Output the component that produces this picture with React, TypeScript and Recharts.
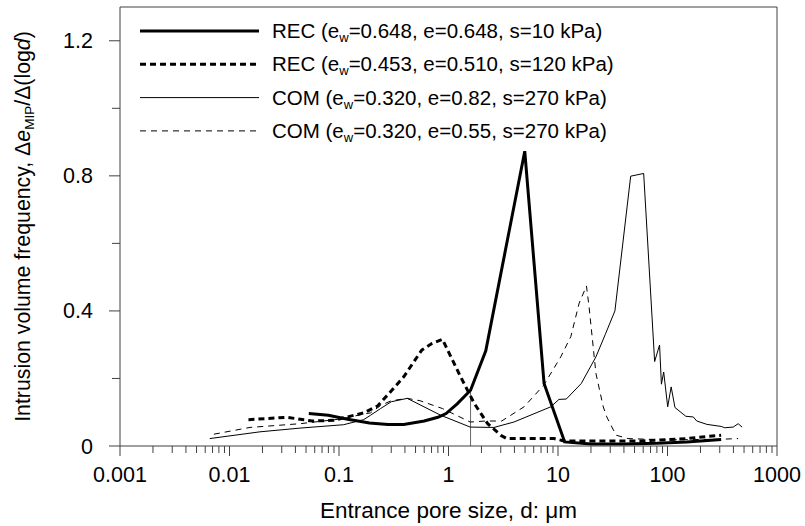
import React from 'react';
import { LineChart, Line, XAxis, YAxis, ReferenceLine, Legend } from 'recharts';

// REC, e_w=0.648 (thick solid)
const rec1D = [0.053, 0.08, 0.12, 0.19, 0.28, 0.39, 0.6, 0.8, 0.95, 1.2, 1.59, 2.19, 4.97, 7.46, 11.5, 20, 40, 80, 150, 309];
const rec1V = [0.096, 0.091, 0.079, 0.068, 0.064, 0.064, 0.074, 0.085, 0.096, 0.125, 0.165, 0.282, 0.873, 0.185, 0.012, 0.006, 0.006, 0.008, 0.012, 0.019];

// REC, e_w=0.453 (thick dashed)
const rec2D = [0.0149, 0.0335, 0.057, 0.089, 0.168, 0.224, 0.276, 0.39, 0.57, 0.71, 0.88, 1.0, 1.29, 1.72, 2.28, 3.0, 3.4, 6.0, 9.2, 11.3, 30, 57, 150, 309];
const rec2V = [0.078, 0.085, 0.074, 0.076, 0.098, 0.118, 0.15, 0.205, 0.284, 0.304, 0.316, 0.279, 0.205, 0.126, 0.066, 0.032, 0.022, 0.022, 0.022, 0.015, 0.015, 0.015, 0.022, 0.032];

// COM, e=0.82 (thin solid)
const com1D = [0.0066, 0.019, 0.044, 0.11, 0.168, 0.194, 0.24, 0.3, 0.42, 0.85, 1.58, 2.6, 3.96, 8.6, 10.2, 11.9, 16.3, 22.2, 27, 33.1, 46.1, 60.6, 76.3, 84.6, 88, 92.3, 100.4, 108, 117, 147, 172, 185, 229, 309, 333, 398, 442, 480];
const com1V = [0.022, 0.042, 0.053, 0.063, 0.078, 0.091, 0.111, 0.131, 0.141, 0.091, 0.056, 0.055, 0.071, 0.116, 0.138, 0.139, 0.185, 0.264, 0.33, 0.4, 0.799, 0.807, 0.25, 0.299, 0.183, 0.219, 0.116, 0.175, 0.114, 0.088, 0.086, 0.074, 0.064, 0.058, 0.054, 0.056, 0.066, 0.056];

// COM, e=0.55 (thin dashed)
const com2D = [0.0072, 0.0154, 0.044, 0.11, 0.168, 0.194, 0.24, 0.3, 0.42, 0.55, 0.88, 1.58, 2.19, 3.06, 4.9, 7.4, 10.6, 13.1, 15.6, 18.2, 19.2, 22.2, 25.9, 27.9, 33.9, 43.6, 100, 309, 442];
const com2V = [0.035, 0.055, 0.066, 0.081, 0.095, 0.098, 0.12, 0.134, 0.141, 0.134, 0.111, 0.071, 0.074, 0.074, 0.116, 0.18, 0.264, 0.324, 0.423, 0.474, 0.413, 0.215, 0.116, 0.086, 0.032, 0.022, 0.018, 0.02, 0.022];

// drop line at the REC threshold
const dropD = [1.59, 1.59];
const dropV = [0, 0.165];

const legendNames = ['REC', 'REC', 'COM', 'COM'];
const legendEw = ['0.648', '0.453', '0.320', '0.320'];
const legendE = ['0.648', '0.510', '0.82', '0.55'];
const legendS = ['10', '120', '270', '270'];

const majorX = [0.001, 0.01, 0.1, 1, 10, 100, 1000];
const majorXLabels = ['0.001', '0.01', '0.1', '1', '10', '100', '1000'];
const yTicks = [0, 0.2, 0.4, 0.6, 0.8, 1.0, 1.2];

const FONT = 'Arial, "Liberation Sans", sans-serif';
const AXIS = '#404040';

const zip = (d: number[], v: number[]) => d.map((x, i) => ({ d: x, v: v[i] }));

const minorX = majorX.slice(0, -1).flatMap(t => [2, 3, 4, 5, 6, 7, 8, 9].map(m => +(t * m).toPrecision(3)));
const xTicks = [...majorX, ...minorX].sort((a, b) => a - b);

const styles = [
  { width: 3, dash: undefined },
  { width: 3, dash: '6 4' },
  { width: 1, dash: undefined },
  { width: 1, dash: '6 5' },
];

const XTick = (props: any) => {
  const { x, y, payload } = props;
  const idx = majorX.findIndex(t => Math.abs(t - payload.value) / t < 1e-6);
  const major = idx >= 0;
  return (
    <g>
      <line x1={x} x2={x} y1={y} y2={y + (major ? 10 : 7)} stroke={AXIS} />
      {major && (
        <text x={x} y={y + 36} textAnchor="middle" fontSize={21.5} fontFamily={FONT} fill="#000">
          {majorXLabels[idx]}
        </text>
      )}
    </g>
  );
};

const YTick = (props: any) => {
  const { x, y, payload } = props;
  const v = payload.value;
  const major = Math.round(v * 10) % 4 === 0;
  return (
    <g>
      <line x1={x - (major ? 11 : 8)} x2={x} y1={y} y2={y} stroke={AXIS} />
      {major && (
        <text x={x - 27} y={y + 7.5} textAnchor="end" fontSize={21.5} fontFamily={FONT} fill="#000">
          {v === 0 ? '0' : v.toFixed(1)}
        </text>
      )}
    </g>
  );
};

const YLabel = (props: any) => {
  const vb = props.viewBox;
  const cy = vb.y + vb.height / 2;
  const cx = 30;
  return (
    <text x={cx} y={cy} transform={`rotate(-90, ${cx}, ${cy})`} textAnchor="middle" fontSize={21.3} fontFamily={FONT} fill="#000">
      Intrusion volume frequency, Δ<tspan fontStyle="italic">e</tspan>
      <tspan fontSize={13.5} dy={4}>MIP</tspan>
      <tspan dy={-4}>/Δ(log</tspan>
      <tspan fontStyle="italic">d</tspan>)
    </text>
  );
};

const XLabel = (props: any) => {
  const vb = props.viewBox;
  return (
    <text x={vb.x + vb.width / 2} y={vb.y + 72} textAnchor="middle" fontSize={22.5} fontFamily={FONT} fill="#000">
      Entrance pore size, d: μm
    </text>
  );
};

const LegendBox = () => (
  <svg width={805} height={150} style={{ display: 'block' }}>
    {legendNames.map((name, i) => {
      const y = 31 + i * 33.3;
      return (
        <g key={i}>
          <line x1={140} x2={259} y1={y} y2={y} stroke="#000" strokeWidth={styles[i].width} strokeDasharray={styles[i].dash} />
          <text x={272} y={y + 7} fontSize={20.5} fontFamily={FONT} fill="#000">
            {name} (e<tspan fontSize={13} dy={4}>w</tspan>
            <tspan dy={-4}>={legendEw[i]}, e={legendE[i]}, s={legendS[i]} kPa)</tspan>
          </text>
        </g>
      );
    })}
  </svg>
);

const series = [zip(rec1D, rec1V), zip(rec2D, rec2V), zip(com1D, com1V), zip(com2D, com2V)];

export default function App() {
  return (
    <div style={{ position: 'absolute', left: 0, top: 0, background: '#fff' }}>
      <LineChart width={805} height={526} margin={{ top: 7, right: 28, bottom: 0, left: 0 }}>
        <XAxis
          dataKey="d"
          type="number"
          scale="log"
          domain={[0.001, 1000]}
          allowDataOverflow
          ticks={xTicks}
          interval={0}
          height={80}
          tickSize={0}
          tickMargin={0}
          tickLine={false}
          tick={<XTick />}
          stroke={AXIS}
          label={{ content: <XLabel /> }}
        />
        <YAxis
          type="number"
          domain={[0, 1.3]}
          ticks={yTicks}
          interval={0}
          width={120}
          tickSize={0}
          tickMargin={0}
          tickLine={false}
          tick={<YTick />}
          stroke={AXIS}
          label={{ content: <YLabel /> }}
        />
        <ReferenceLine y={1.3} stroke={AXIS} />
        <ReferenceLine x={1000} stroke={AXIS} />
        <Legend
          verticalAlign="middle"
          align="center"
          layout="horizontal"
          content={() => <LegendBox />}
          wrapperStyle={{ left: 0, top: 0, width: 805, height: 150 }}
        />
        <Line data={zip(dropD, dropV)} dataKey="v" stroke="#666" strokeWidth={1} dot={false} isAnimationActive={false} legendType="none" />
        {series.map((data, i) => (
          <Line
            key={i}
            data={data}
            dataKey="v"
            stroke="#000"
            strokeWidth={styles[i].width}
            strokeDasharray={styles[i].dash}
            dot={false}
            activeDot={false}
            isAnimationActive={false}
          />
        ))}
      </LineChart>
    </div>
  );
}
